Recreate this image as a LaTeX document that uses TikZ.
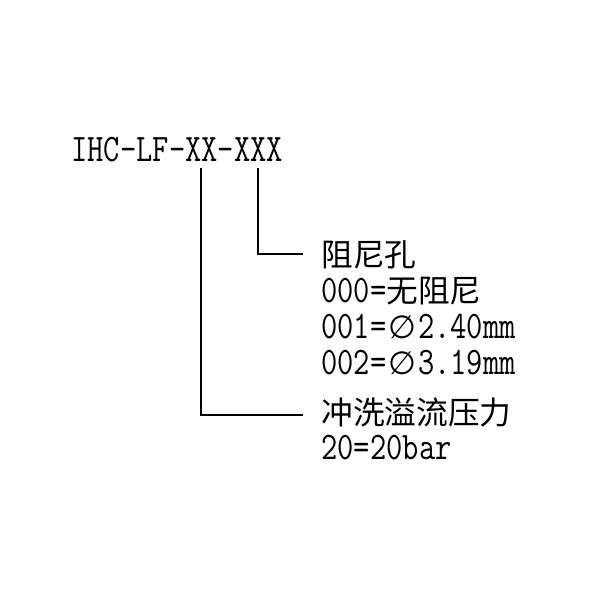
\documentclass[tikz,border=0pt]{standalone}
\usepackage{fontspec}
\setmonofont{Latin Modern Mono}[FakeStretch=0.81]
\newfontfamily\cjkfont{Noto Sans CJK SC}
\newfontfamily\symfont{DejaVu Sans}
\newcommand\zh[1]{{\fontsize{15.85pt}{16pt}\selectfont\cjkfont #1}}
\newcommand\dia{\makebox[15.85pt]{\fontsize{16pt}{16pt}\selectfont\symfont ∅}}
\begin{document}
\begin{tikzpicture}[x=0.5pt,y=-0.5pt,
  txt/.style={anchor=base west,inner sep=0pt,font=\fontsize{19.5pt}{20pt}\selectfont\ttfamily},
  lead/.style={line width=1pt}]
\useasboundingbox[fill=white] (0,0) rectangle (600,600);
\node[txt] (code) at (71,161) {IHC-LF-XX-XXX};
\node[txt] (a1) at (321,266) {\zh{阻尼孔}};
\node[txt] (a2) at (321,302) {000=\zh{无阻尼}};
\node[txt] (a3) at (321,338) {001=\dia 2.40mm};
\node[txt] (a4) at (321,374) {002=\dia 3.19mm};
\node[txt] (b1) at (321,424) {\zh{冲洗溢流压力}};
\node[txt] (b2) at (321,459) {20=20bar};
\coordinate (xxtop) at (201,168);
\coordinate (xxxtop) at (258,168);
\coordinate (aend) at (303,254);
\coordinate (bend) at (303,415);
\draw[lead] (xxxtop) |- (aend);
\draw[lead] (xxtop) |- (bend);
\end{tikzpicture}
\end{document}
